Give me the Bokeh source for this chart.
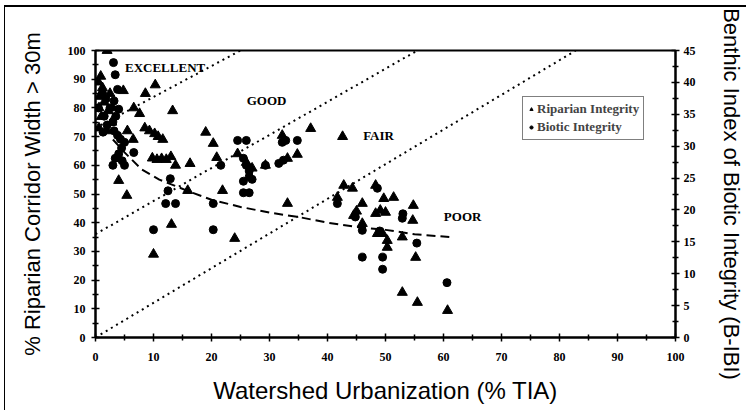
from bokeh.plotting import figure
from bokeh.models import Range1d, LinearAxis, Legend, LegendItem, FixedTicker, ColumnDataSource
from bokeh.core.properties import value
from bokeh.embed import file_html
from bokeh.resources import INLINE

# Riparian integrity (% riparian corridor width > 30 m) vs % TIA
rip_x = [2.0, 0.9, 0.5, 1.2, 0.7, 1.5, 0.6, 2.2, 1.0, 0.6, 2.0, 2.5, 3.0, 2.8,
         4.8, 8.6, 10.3, 6.6, 7.6, 13.3, 8.5, 9.3, 10.2, 10.8, 11.6, 5.5, 6.5,
         9.8, 10.6, 11.4, 12.2, 13.0, 13.8, 16.3, 4.0, 5.4, 15.9, 13.1, 10.0,
         19.0, 20.3, 20.9, 21.9, 24.0, 24.5, 26.0, 27.0, 29.3, 33.1, 34.8, 32.2,
         37.1, 42.6, 33.1, 41.7, 42.8, 44.3, 46.0, 48.3, 49.7, 51.4, 54.8, 44.5,
         45.0, 48.3, 49.1, 50.0, 54.7, 46.0, 48.6, 49.5, 50.3, 50.3, 52.9, 55.2,
         52.9, 55.5, 60.7]
rip_y = [100, 91, 89, 87, 84, 82, 80, 79, 77, 73, 72, 85, 80, 75,
         86, 85, 88, 80, 78, 79, 73, 72, 71, 70, 69, 72, 69,
         62.5, 62, 62.3, 62, 63, 60, 60.6, 54.7, 49.5, 51.2, 39.4, 29,
         71.5, 67.6, 62.7, 51.2, 34.5, 64, 61, 59, 60, 62.4, 63.8, 70.4,
         72.8, 70, 46.7, 48.8, 53, 52, 46.7, 53, 48.4, 48.8, 46, 42.5,
         44, 43.2, 44.3, 43.6, 40.8, 39.7, 36.2, 36.2, 33.8, 31.4, 35, 27.9,
         15.7, 12.2, 9.4]

# Biotic integrity (B-IBI score) vs % TIA
bio_x = [3.1, 3.4, 3.8, 1.2, 1.8, 3.2, 0.5, 2.5, 4.0, 1.5, 3.5, 3.0, 2.0, 1.3,
         3.2, 3.8, 4.3, 5.0, 4.5, 4.0, 3.4, 4.6, 3.0, 5.0, 6.6, 12.9, 12.5,
         12.1, 13.8, 10.0, 20.3, 20.3, 21.6, 24.5, 26.0, 25.5, 26.0, 26.5, 26.5,
         27.0, 25.5, 25.5, 26.5, 29.3, 31.6, 32.4, 32.8, 34.8, 32.2, 41.7, 44.8,
         48.6, 52.9, 46.0, 55.4, 46.0, 49.5, 49.5, 60.6, 49.0, 53.0]
bio_y = [43.1, 41.2, 38.9, 38.3, 37.4, 37.1, 36.0, 36.0, 35.8, 34.7, 34.7, 33.8, 33.3, 32.2,
         32.4, 31.7, 31.1, 30.6, 29.7, 28.8, 28.1, 27.7, 27.0, 27.0, 29.0, 24.9, 23.0,
         21.0, 21.0, 16.9, 21.0, 16.9, 27.0, 30.9, 30.9, 28.1, 27.0, 26.1, 25.2,
         24.8, 24.5, 22.7, 22.7, 27.0, 27.3, 27.8, 30.9, 30.9, 30.6, 21.0, 18.9,
         23.4, 18.7, 16.8, 14.8, 12.6, 12.6, 10.7, 8.6, 16.7, 19.4]

# Trend curve
trend_x = [3, 5, 8, 11, 16, 20, 25, 30, 35, 40, 45, 50, 55, 61]
trend_y = [69, 64.5, 58.5, 55, 51, 48, 45.5, 43.5, 42, 40, 38.5, 37.5, 36, 35]

# Class boundary lines (x0, y0) -> (x1, y1)
bound_x = [[0, 25], [0, 55.5], [0, 82.8]]
bound_y = [[73, 100], [36, 100], [0, 100]]

zone_labels = ["EXCELLENT", "GOOD", "FAIR", "POOR"]
zone_x = [12, 29.5, 48.8, 63.3]
zone_y = [94, 82.6, 70.4, 42.2]

left_ticks = list(range(0, 101, 10))
right_ticks = list(range(0, 46, 5))
bottom_ticks = list(range(0, 101, 10))

p = figure(width=742, height=405, output_backend="svg", toolbar_location=None,
           x_range=Range1d(0, 100), y_range=Range1d(0, 100),
           min_border_left=90, min_border_right=72, min_border_top=43, min_border_bottom=75,
           x_axis_label="Watershed Urbanization (% TIA)",
           y_axis_label="% Riparian Corridor Width > 30m")
p.styles = {"margin-left": "4px", "margin-top": "5px",
            "border-top": "2px solid black", "border-left": "1px solid black"}
p.extra_y_ranges = {"bibi": Range1d(0, 45)}
p.grid.visible = False
p.outline_line_color = "black"
p.outline_line_width = 2
p.outline_line_alpha = 1

rax = LinearAxis(y_range_name="bibi", axis_label="Benthic Index of Biotic Integrity (B-IBI)")
p.add_layout(rax, "right")

for ax, ticks in ((p.xaxis[0], bottom_ticks), (p.yaxis[0], left_ticks), (rax, right_ticks)):
    ax.ticker = FixedTicker(ticks=ticks, minor_ticks=[t + (ticks[1] - ticks[0]) / 2 for t in ticks[:-1]])
    ax.axis_line_width = 2
    ax.axis_line_color = "black"
    ax.major_tick_in = 4
    ax.major_tick_out = 4
    ax.minor_tick_in = 3
    ax.minor_tick_out = 3
    ax.major_tick_line_width = 1.5
    ax.minor_tick_line_width = 1.5
    ax.major_label_text_font = "Liberation Serif"
    ax.major_label_text_font_style = "bold"
    ax.major_label_text_font_size = "12px"
    ax.major_label_text_color = "black"
    ax.axis_label_text_font = "Liberation Sans"
    ax.axis_label_text_font_style = "normal"
    ax.axis_label_text_color = "black"

p.xaxis[0].major_label_standoff = 11
p.xaxis[0].axis_label_standoff = 13
p.xaxis[0].axis_label_text_font_size = "24px"
p.yaxis[0].major_label_standoff = 6
p.yaxis[0].axis_label_standoff = 20
p.yaxis[0].axis_label_text_font_size = "22px"
rax.major_label_standoff = 4
rax.axis_label_standoff = 20
rax.axis_label_text_font_size = "22px"

for bx, by in zip(bound_x, bound_y):
    p.line(bx, by, line_color="black", line_width=2, line_dash="2 4")

p.line(trend_x, trend_y, line_color="black", line_width=2, line_dash="9 5")

tri = p.scatter(rip_x, rip_y, marker="triangle", size=10, fill_color="black", line_color="black")
cir = p.scatter(bio_x, bio_y, marker="circle", size=8, fill_color="black", line_color="black",
                y_range_name="bibi")

src = ColumnDataSource(dict(x=zone_x, y=zone_y, t=zone_labels))
p.text(x="x", y="y", text="t", source=src, text_font=value("Liberation Serif"),
       text_font_style="bold", text_font_size="13px", text_align="center",
       text_baseline="middle", text_color="black")

legend = Legend(items=[LegendItem(label="Riparian Integrity", renderers=[tri]),
                       LegendItem(label="Biotic Integrity", renderers=[cir])],
                location=(427, 197))
legend.border_line_color = "black"
legend.border_line_width = 1.5
legend.label_text_font = "Liberation Serif"
legend.label_text_font_style = "bold"
legend.label_text_font_size = "13px"
legend.glyph_width = 8
legend.glyph_height = 10
legend.label_standoff = 2
legend.padding = 4
legend.spacing = 2
legend.margin = 0
legend.label_height = 16
legend.background_fill_alpha = 1
p.add_layout(legend, "center")

open("out.html", "w").write(file_html(p, INLINE))
